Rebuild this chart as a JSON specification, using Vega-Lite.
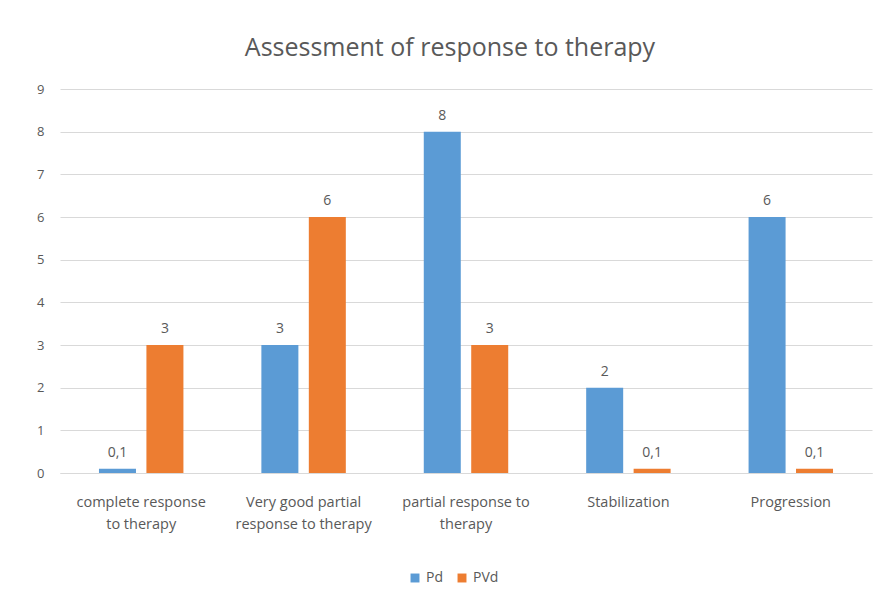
{
  "$schema": "https://vega.github.io/schema/vega-lite/v6.json",
  "width": 812,
  "height": 384,
  "autosize": {"type": "none"},
  "padding": {"left": 60, "top": 89, "right": 8, "bottom": 130},
  "background": "white",
  "config": {
    "font": "Open Sans",
    "view": {"stroke": null},
    "locale": {"number": {"decimal": ",", "thousands": ".", "grouping": [3], "currency": ["", " €"]}}
  },
  "title": {
    "text": "Assessment of response to therapy",
    "fontSize": 25,
    "fontWeight": "normal",
    "color": "#595959",
    "anchor": "middle",
    "dx": -16,
    "offset": 22
  },
  "data": {
    "values": [
      {"category": "complete response to therapy", "series": "Pd", "value": 0.1},
      {"category": "complete response to therapy", "series": "PVd", "value": 3},
      {"category": "Very good partial response to therapy", "series": "Pd", "value": 3},
      {"category": "Very good partial response to therapy", "series": "PVd", "value": 6},
      {"category": "partial response to therapy", "series": "Pd", "value": 8},
      {"category": "partial response to therapy", "series": "PVd", "value": 3},
      {"category": "Stabilization", "series": "Pd", "value": 2},
      {"category": "Stabilization", "series": "PVd", "value": 0.1},
      {"category": "Progression", "series": "Pd", "value": 6},
      {"category": "Progression", "series": "PVd", "value": 0.1}
    ]
  },
  "encoding": {
    "x": {
      "field": "category",
      "type": "nominal",
      "sort": null,
      "scale": {"paddingInner": 0.48, "paddingOuter": 0.24},
      "axis": {
        "title": null,
        "labelAngle": 0,
        "ticks": false,
        "domainColor": "#d9d9d9",
        "labelColor": "#595959",
        "labelFontSize": 14.5,
        "labelLineHeight": 22,
        "labelPadding": 22,
        "labelExpr": "datum.value == 'complete response to therapy' ? ['complete response', 'to therapy'] : datum.value == 'Very good partial response to therapy' ? ['Very good partial', 'response to therapy'] : datum.value == 'partial response to therapy' ? ['partial response to', 'therapy'] : datum.value"
      }
    },
    "xOffset": {
      "field": "series",
      "type": "nominal",
      "sort": ["Pd", "PVd"],
      "scale": {"paddingInner": 0.22, "paddingOuter": 0}
    },
    "y": {
      "field": "value",
      "type": "quantitative",
      "scale": {"domain": [0, 9], "nice": false},
      "axis": {
        "title": null,
        "values": [0, 1, 2, 3, 4, 5, 6, 7, 8, 9],
        "domain": false,
        "ticks": false,
        "gridColor": "#d9d9d9",
        "labelColor": "#595959",
        "labelFontSize": 13,
        "labelPadding": 16
      }
    }
  },
  "layer": [
    {
      "mark": {"type": "bar"},
      "encoding": {
        "color": {
          "field": "series",
          "type": "nominal",
          "sort": ["Pd", "PVd"],
          "scale": {"domain": ["Pd", "PVd"], "range": ["#5b9bd5", "#ed7d31"]},
          "legend": {
            "title": null,
            "orient": "none",
            "direction": "horizontal",
            "legendX": 348,
            "legendY": 482,
            "symbolType": "square",
            "symbolSize": 80,
            "symbolStrokeWidth": 0,
            "labelColor": "#595959",
            "labelFontSize": 14,
            "columnPadding": 12,
            "labelOffset": 4
          }
        }
      }
    },
    {
      "mark": {"type": "text", "baseline": "bottom", "dy": -9, "fontSize": 14, "color": "#595959"},
      "encoding": {
        "text": {"field": "value", "type": "quantitative", "format": "~g"}
      }
    }
  ]
}
